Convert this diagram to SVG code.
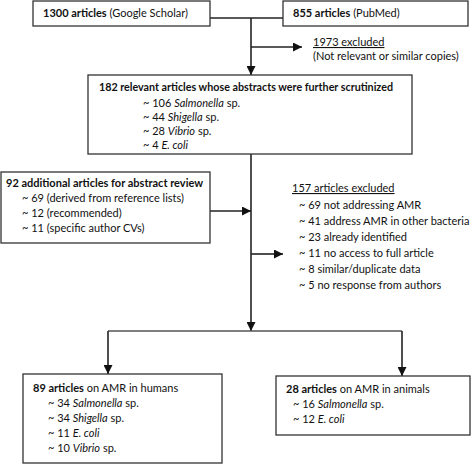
<svg xmlns="http://www.w3.org/2000/svg" width="473" height="464" viewBox="0 0 473 464">
<defs>
<marker id="ah" markerWidth="9" markerHeight="9" viewBox="0 0 10 10" refX="10" refY="5" orient="auto" markerUnits="userSpaceOnUse">
<path d="M0,0 L10,5 L0,10 z" fill="#111"/>
</marker>
</defs>
<style>
text{font-family:Lato,"Liberation Sans",sans-serif;font-size:11px;fill:#111}
.b{font-weight:bold}
.i{font-style:italic}
.u{text-decoration:underline}
rect{fill:#fff;stroke:#333;stroke-width:1.3}
.c{fill:none;stroke:#222;stroke-width:1.6}
.arr{marker-end:url(#ah)}
</style>
<g id="connectors">
<path class="c" d="M210,18 H283"/>
<path class="c arr" d="M251,18 V75"/>
<path class="c arr" d="M251,47 H302"/>
<path class="c arr" d="M251,154 V331"/>
<path class="c arr" d="M210,211 H251"/>
<path class="c arr" d="M251,254 H283"/>
<path class="c" d="M108,331 H402" style="stroke:#555"/>
<path class="c arr" d="M108,331 V374"/>
<path class="c arr" d="M402,331 V376"/>
</g>
<g id="n1">
<rect x="33" y="1" width="177" height="25"/>
<text x="43" y="17"><tspan class="b">1300 articles</tspan> (Google Scholar)</text>
</g>
<g id="n2">
<rect x="283" y="1" width="185" height="25"/>
<text x="293" y="17"><tspan class="b">855 articles</tspan> (PubMed)</text>
</g>
<g id="n-excl1">
<text x="313" y="46" class="u">1973 excluded</text>
<text x="313" y="60">(Not relevant or similar copies)</text>
</g>
<g id="n3">
<rect x="88" y="75" width="324" height="79"/>
<text x="99" y="91" class="b" textLength="294" lengthAdjust="spacingAndGlyphs">182 relevant articles whose abstracts were further scrutinized</text>
<text x="143" y="107">~ 106 <tspan class="i">Salmonella</tspan> sp.</text>
<text x="143" y="121">~ 44 <tspan class="i">Shigella</tspan> sp.</text>
<text x="143" y="135">~ 28 <tspan class="i">Vibrio</tspan> sp.</text>
<text x="143" y="149">~ 4 <tspan class="i">E. coli</tspan></text>
</g>
<g id="n4">
<rect x="1" y="172" width="209" height="71"/>
<text x="6" y="187" class="b">92 additional articles for abstract review</text>
<text x="22" y="202">~ 69 (derived from reference lists)</text>
<text x="22" y="217">~ 12 (recommended)</text>
<text x="22" y="232">~ 11 (specific author CVs)</text>
</g>
<g id="n-excl2">
<text x="292" y="192" class="u">157 articles excluded</text>
<text x="299" y="208.5">~ 69 not addressing AMR</text>
<text x="299" y="224.5">~ 41 address AMR in other bacteria</text>
<text x="299" y="240.5">~ 23 already identified</text>
<text x="299" y="257">~ 11 no access to full article</text>
<text x="299" y="273">~ 8 similar/duplicate data</text>
<text x="299" y="289">~ 5 no response from authors</text>
</g>
<g id="n5">
<rect x="23" y="374" width="199" height="89"/>
<text x="33" y="392"><tspan class="b">89 articles</tspan> on AMR in humans</text>
<text x="48" y="407">~ 34 <tspan class="i">Salmonella</tspan> sp.</text>
<text x="48" y="422">~ 34 <tspan class="i">Shigella</tspan> sp.</text>
<text x="48" y="437">~ 11 <tspan class="i">E. coli</tspan></text>
<text x="48" y="452">~ 10 <tspan class="i">Vibrio</tspan> sp.</text>
</g>
<g id="n6">
<rect x="276" y="376" width="194" height="59"/>
<text x="286" y="393"><tspan class="b">28 articles</tspan> on AMR in animals</text>
<text x="293" y="408">~ 16 <tspan class="i">Salmonella</tspan> sp.</text>
<text x="293" y="423">~ 12 <tspan class="i">E. coli</tspan></text>
</g>
</svg>
